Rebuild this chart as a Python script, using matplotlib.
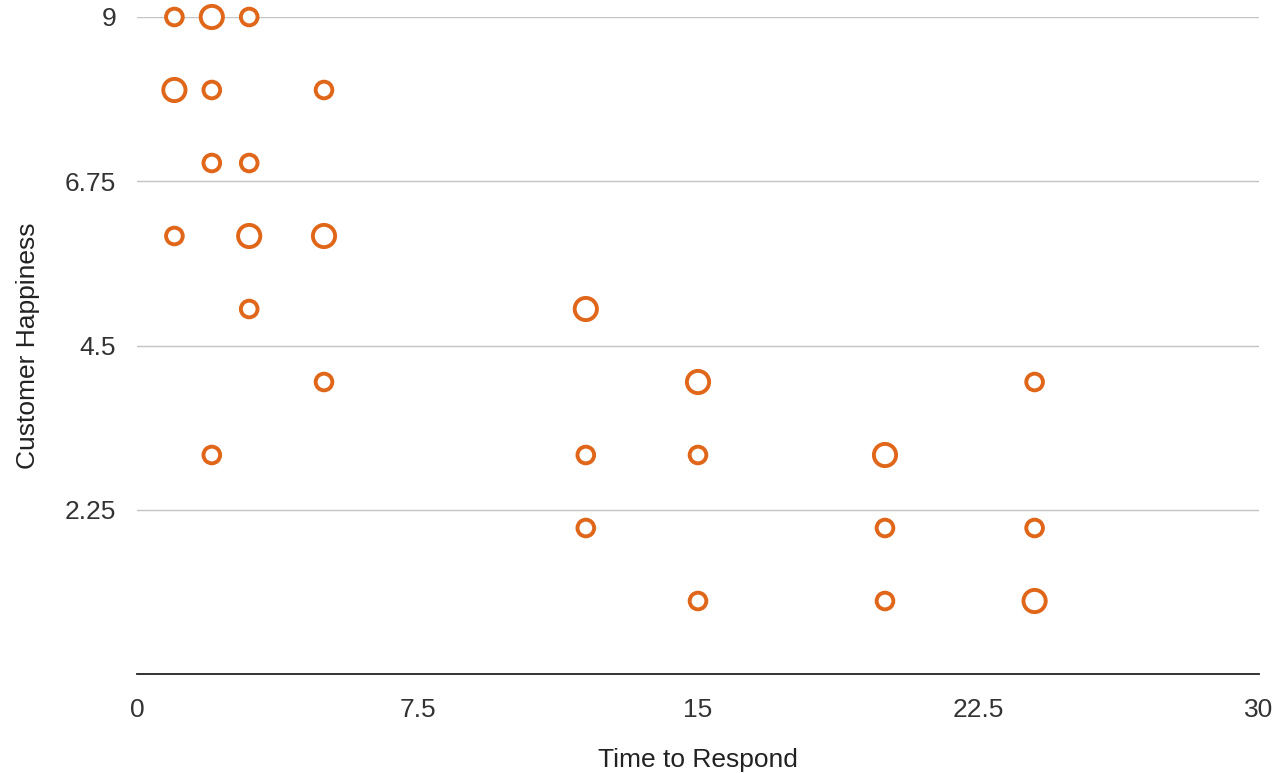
import numpy as np
import matplotlib.pyplot as plt

plt.rcParams['font.family'] = ['Liberation Sans', 'DejaVu Sans']

# data
time_to_respond = [1, 2, 3, 1, 2, 5, 2, 3, 1, 3, 5, 3, 12, 5, 15, 24,
                   2, 12, 15, 20, 12, 20, 24, 15, 20, 24]
happiness = [9, 9, 9, 8, 8, 8, 7, 7, 6, 6, 6, 5, 5, 4, 4, 4,
             3, 3, 3, 3, 2, 2, 2, 1, 1, 1]
big = [0, 1, 0, 1, 0, 0, 0, 0, 0, 1, 1, 0, 1, 0, 1, 0,
       0, 0, 0, 1, 0, 0, 0, 0, 0, 1]

x_ticks = [0, 7.5, 15, 22.5, 30]
x_labels = ['0', '7.5', '15', '22.5', '30']
y_ticks = [2.25, 4.5, 6.75, 9]
y_labels = ['2.25', '4.5', '6.75', '9']

orange = '#e0661a'

fig = plt.figure(figsize=(12.86, 7.73), dpi=100)
ax = fig.add_axes([137/1286, 1 - 674/773, 1122/1286, 657/773])

sizes = np.where(np.array(big) == 1, 16**2, 12**2)
ax.scatter(time_to_respond, happiness, s=sizes, facecolors='white',
           edgecolors=orange, linewidths=2.8, zorder=3, clip_on=False)

ax.set_xlim(0, 30)
ax.set_ylim(0, 9)
ax.set_xticks(x_ticks)
ax.set_xticklabels(x_labels)
ax.set_yticks(y_ticks)
ax.set_yticklabels(y_labels)
ax.grid(axis='y', color='#c4c4c4', linewidth=1)
ax.set_axisbelow(True)

for s in ['top', 'right', 'left']:
    ax.spines[s].set_visible(False)
ax.spines['bottom'].set_color('#222222')
ax.spines['bottom'].set_linewidth(1.3)
ax.tick_params(length=0, labelsize=19, colors='#333333')
ax.tick_params(axis='x', pad=17)
ax.tick_params(axis='y', pad=15)

ax.set_xlabel('Time to Respond', fontsize=19, color='#222222', labelpad=19)
ax.set_ylabel('Customer Happiness', fontsize=19, color='#222222', labelpad=18)

fig.savefig('out.png', dpi=100, facecolor='white')
